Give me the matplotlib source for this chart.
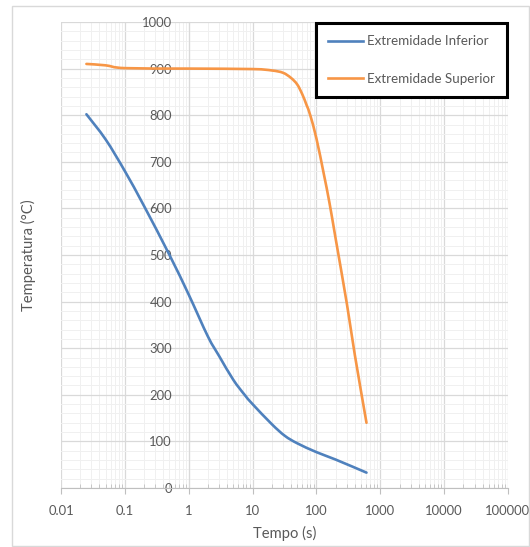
import numpy as np
import matplotlib
matplotlib.use("Agg")
import matplotlib.pyplot as plt
from matplotlib.ticker import LogLocator, FixedLocator, FuncFormatter
from matplotlib.patches import Rectangle, PathPatch
from matplotlib.path import Path
from matplotlib.lines import Line2D

# tempo (s) e temperatura (°C)
t_inf = [0.025, 0.05, 0.1, 0.2, 0.5, 1, 2, 3, 5, 7.5, 10, 20, 32, 50, 100, 200, 608]
T_inf = [802, 748, 680, 605, 500, 415, 325, 283, 232, 200, 180, 137, 112, 96, 77, 61, 33]
t_sup = [0.025, 0.05, 0.1, 1, 10, 20, 30, 40, 50, 60, 70, 80, 100, 130, 160, 200, 300, 400, 608]
T_sup = [910, 907, 901, 900, 899, 896, 891, 880, 866, 845, 822, 800, 750, 675, 612, 535, 395, 285, 140]
YTICKS = [0, 100, 200, 300, 400, 500, 600, 700, 800, 900, 1000]
XTICKS = [0.01, 0.1, 1, 10, 100, 1000, 10000, 100000]

BLUE = "#4F81BD"; ORANGE = "#F79646"; TXT = "#595959"
plt.rcParams.update({"font.family": ["Lato", "DejaVu Sans"], "font.size": 9})


def smooth_path(t, y):
    # linha suavizada tipo Excel: Bezier (Catmull-Rom) no espaco log(t), y
    x = np.log10(t); y = np.asarray(y, float)
    P = np.column_stack([x, y])
    P = np.vstack([P[0], P, P[-1]])
    verts = [P[1]]; codes = [Path.MOVETO]
    for i in range(1, len(P) - 2):
        c1 = P[i] + (P[i + 1] - P[i - 1]) / 6
        c2 = P[i + 1] - (P[i + 2] - P[i]) / 6
        verts += [c1, c2, P[i + 1]]; codes += [Path.CURVE4] * 3
    verts = np.array(verts)
    verts[:, 0] = 10 ** verts[:, 0]
    return Path(verts, codes)


fig = plt.figure(figsize=(5.30, 5.47), dpi=100)
fig.patches.append(Rectangle((12 / 530, 1 - 546 / 547), 517 / 530, 540 / 547,
                             transform=fig.transFigure, fill=False,
                             edgecolor="#d9d9d9", lw=1))
ax = fig.add_axes([61 / 530, 1 - 488 / 547, 447 / 530, 466 / 547])

ax.set_xscale("log")
for t, T, c in [(t_inf, T_inf, BLUE), (t_sup, T_sup, ORANGE)]:
    ax.add_patch(PathPatch(smooth_path(t, T), fill=False, edgecolor=c, lw=1.9,
                           capstyle="round", zorder=3))

ax.set_xlim(0.01, 100000)
ax.set_ylim(0, 1000)
ax.xaxis.set_major_locator(FixedLocator(XTICKS))
ax.xaxis.set_major_formatter(FuncFormatter(lambda v, p: f"{v:g}" if v < 1e5 else "100000"))
ax.xaxis.set_minor_locator(LogLocator(base=10, subs=np.arange(2, 10), numticks=20))
ax.yaxis.set_major_locator(FixedLocator(YTICKS))
ax.yaxis.set_minor_locator(FixedLocator(np.arange(0, 1001, 20)))

ax.grid(which="major", color="#d9d9d9", lw=0.9)
ax.grid(which="minor", color="#f0f0f0", lw=0.7)
ax.set_axisbelow(True)

for s in ["top", "right"]:
    ax.spines[s].set_visible(False)
ax.spines["left"].set_position(("data", 1))
ax.spines["left"].set_color("#d9d9d9")
ax.spines["bottom"].set_color("#bfbfbf")

ax.tick_params(axis="x", which="major", direction="out", length=4, color="#bfbfbf",
               labelcolor=TXT, labelsize=9.4, pad=8)
ax.tick_params(axis="x", which="minor", direction="in", length=3, color="#bfbfbf")
ax.tick_params(axis="y", which="both", length=0, labelcolor=TXT, labelsize=9.4, pad=12)

ax.set_xlabel("Tempo (s)", color=TXT, fontsize=10.6, labelpad=7)
fig.text(28 / 530, 1 - 255 / 547, "Temperatura (°C)", rotation=90, ha="center", va="center",
         color=TXT, fontsize=10.6)

handles = [Line2D([], [], color=BLUE, lw=1.9), Line2D([], [], color=ORANGE, lw=1.9)]
leg = ax.legend(handles, ["Extremidade Inferior", "Extremidade Superior"],
                loc="upper right", bbox_to_anchor=(1.0, 1.0), fontsize=9.6, frameon=True,
                fancybox=False, labelspacing=1.9, handlelength=2.6, handletextpad=0.3,
                borderpad=0.9, borderaxespad=0.1)
for txt in leg.get_texts():
    txt.set_color(TXT)
leg.get_frame().set_edgecolor("black")
leg.get_frame().set_linewidth(2.2)
leg.get_frame().set_alpha(1)

fig.savefig("out.png", dpi=100)
